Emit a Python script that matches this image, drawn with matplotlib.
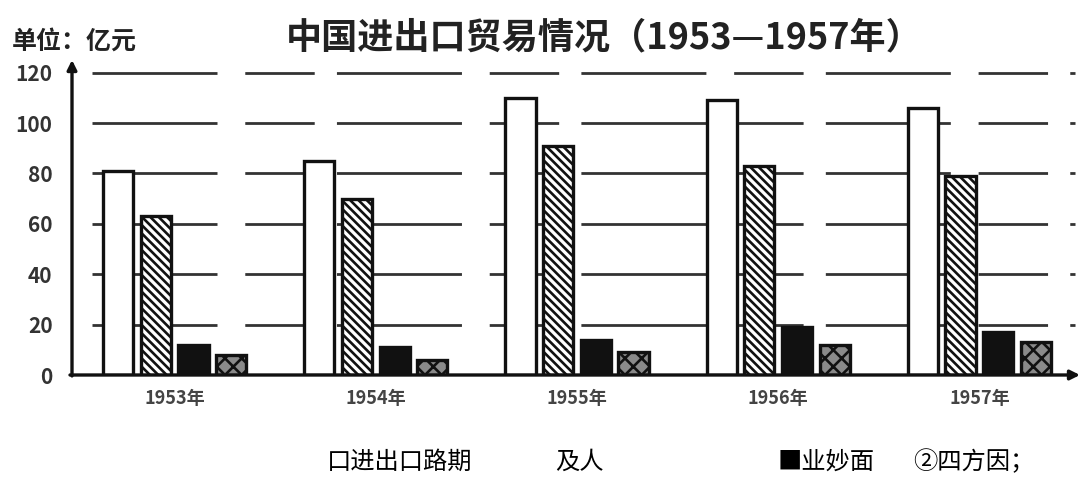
import numpy as np
from matplotlib import pyplot as plt

# 数据（从图中读取，单位：亿元）
years: list[str] = ["1953年", "1954年", "1955年", "1956年", "1957年"]
series_a: list[float] = [81, 85, 110, 109, 106]
series_b: list[float] = [63, 70, 91, 83, 79]
series_c: list[float] = [12, 11, 14, 19, 17]
series_d: list[float] = [8, 6, 9, 12, 13]
y_ticks: list[int] = [0, 20, 40, 60, 80, 100, 120]
bottom_notes: list[str] = ["口进出口路期", "及人", "■业妙面", "②四方因；"]
note_x: list[float] = [327, 555, 778, 913]

plt.rcParams["font.family"] = ["Noto Sans CJK SC", "DejaVu Sans"]
plt.rcParams["hatch.linewidth"] = 1.9


def main() -> None:
    fig = plt.figure(figsize=(10.85, 4.78), dpi=100)
    ax = fig.add_axes((72 / 1085, 1 - 375 / 478, 1008 / 1085, 315 / 478))

    x = np.arange(len(years))
    width = 0.15
    step = 0.187
    offsets = [-1.5 * step, -0.5 * step, 0.5 * step, 1.5 * step]

    # 网格线（断续的长虚线）
    for t in y_ticks[1:]:
        ax.axhline(t, xmin=0.02, xmax=0.995, color="#333333", lw=2.0,
                   ls=(0, (45, 10, 25, 8)), zorder=1)

    ax.bar(x + offsets[0], series_a, width, facecolor="white",
           edgecolor="#111111", lw=2.4, zorder=3)
    ax.bar(x + offsets[1], series_b, width, facecolor="white",
           edgecolor="#111111", hatch="\\\\\\\\", lw=2.4, zorder=3)
    ax.bar(x + offsets[2], series_c, width, facecolor="#111111",
           edgecolor="#111111", lw=2.4, zorder=3)
    ax.bar(x + offsets[3], series_d, width, facecolor="#8a8a8a",
           edgecolor="#111111", hatch="xx", lw=2.4, zorder=3)

    ax.set_xlim(-0.51, 4.5)
    ax.set_ylim(0, 125)
    ax.set_yticks(y_ticks)
    ax.set_yticklabels([str(t) for t in y_ticks], fontsize=15,
                       fontweight="bold", color="#333333")
    ax.set_xticks(x)
    ax.set_xticklabels(years, fontsize=13, fontweight="bold", color="#444444")
    ax.tick_params(axis="y", length=0, pad=14)
    ax.tick_params(axis="x", length=0, pad=10)

    for side in ("top", "right", "left", "bottom"):
        ax.spines[side].set_visible(False)

    # 坐标轴箭头
    ax.annotate("", xy=(0, 1.0), xytext=(0, -0.003), xycoords="axes fraction",
                arrowprops=dict(arrowstyle="-|>", lw=2.4, color="#111111",
                                mutation_scale=14, shrinkA=0, shrinkB=0))
    ax.annotate("", xy=(1.0, 0), xytext=(-0.002, 0), xycoords="axes fraction",
                arrowprops=dict(arrowstyle="-|>", lw=2.4, color="#111111",
                                mutation_scale=14, shrinkA=0, shrinkB=0))

    fig.text(604 / 1085, 1 - 38 / 478, "中国进出口贸易情况（1953—1957年）",
             ha="center", va="center", fontsize=26, fontweight="bold",
             color="#222222")
    fig.text(12 / 1085, 1 - 42 / 478, "单位：亿元", ha="left", va="center",
             fontsize=18, fontweight="bold", color="#222222")

    for note, nx in zip(bottom_notes, note_x):
        fig.text(nx / 1085, 1 - 462 / 478, note, ha="left", va="center",
                 fontsize=17.5, color="black")

    fig.savefig("out.png", dpi=100)


if __name__ == "__main__":
    main()
